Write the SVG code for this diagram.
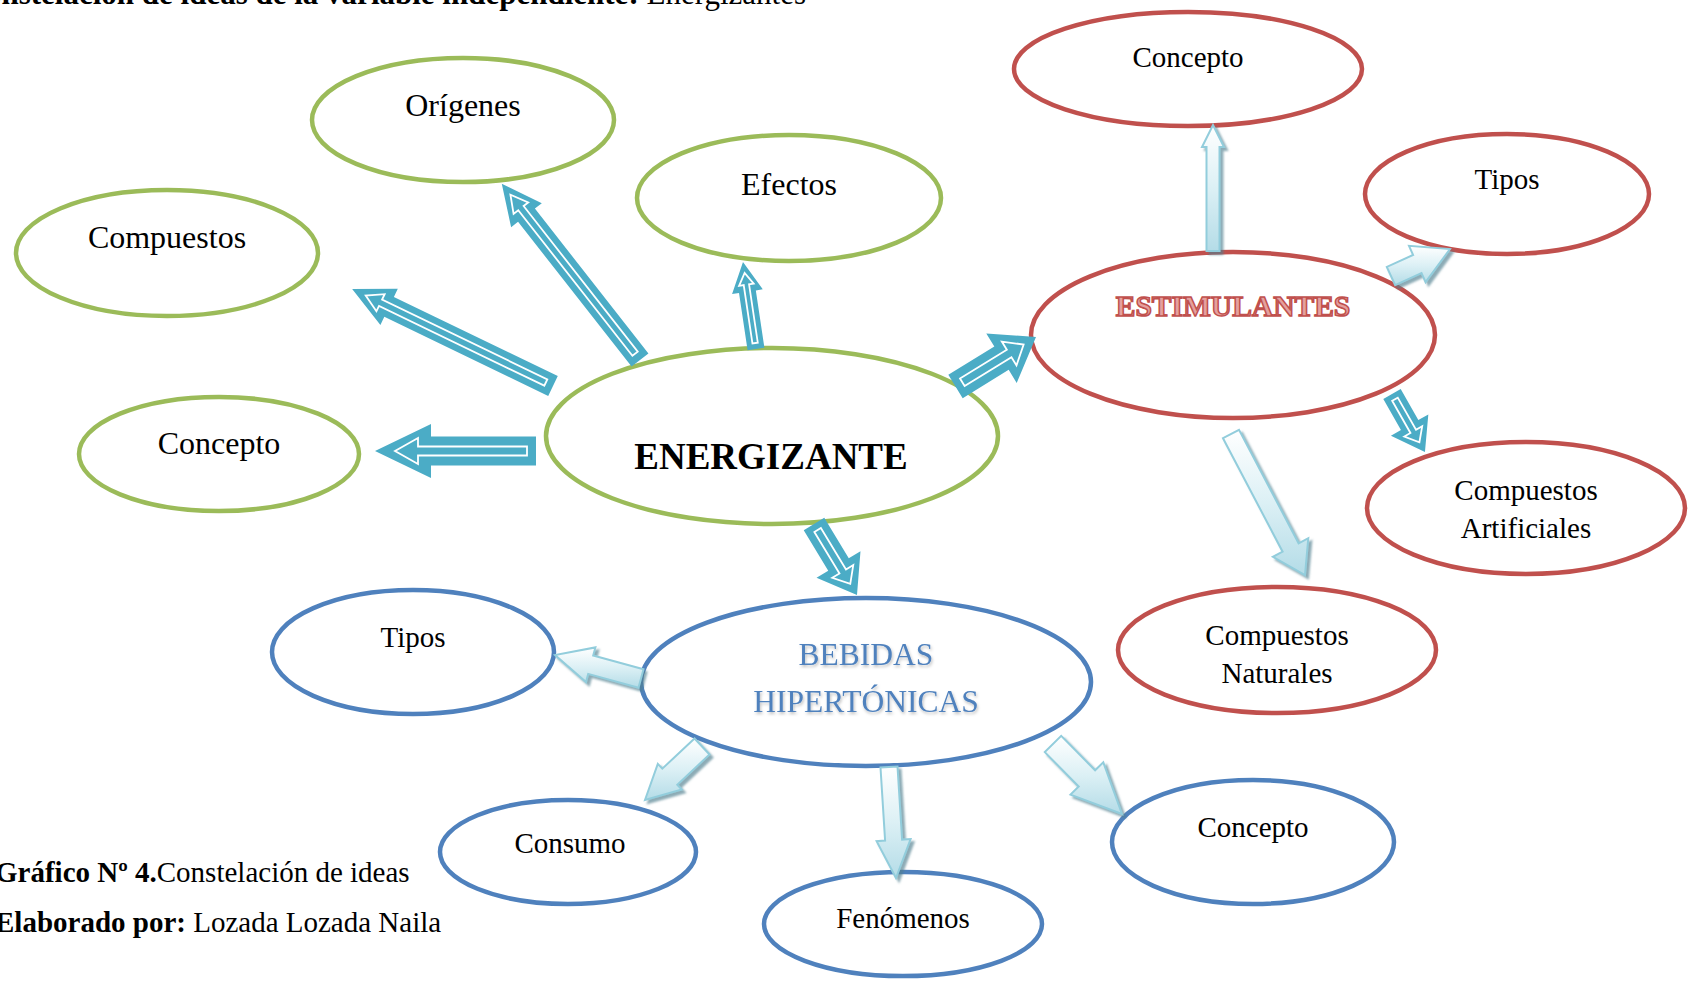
<svg xmlns="http://www.w3.org/2000/svg" width="1689" height="981" viewBox="0 0 1689 981">
<defs>
<linearGradient id="lg" x1="0" y1="0" x2="0" y2="1">
<stop offset="0" stop-color="#ffffff"/>
<stop offset="0.5" stop-color="#dcf0f5"/>
<stop offset="1" stop-color="#b4dce7"/>
</linearGradient>
<filter id="sh" x="-30%" y="-30%" width="160%" height="160%">
<feDropShadow dx="3" dy="3" stdDeviation="1" flood-color="#4f7f8e" flood-opacity="0.65"/>
</filter>
<filter id="tsh" x="-10%" y="-30%" width="120%" height="160%">
<feDropShadow dx="1" dy="2" stdDeviation="1.5" flood-color="#000" flood-opacity="0.25"/>
</filter>
<style>
.g{fill:#fff;stroke:#9bbb59;stroke-width:4.5}
.r{fill:#fff;stroke:#c0504d;stroke-width:4.5}
.b{fill:#fff;stroke:#4f81bd;stroke-width:4.5}
.t{font-family:"Liberation Serif","Times New Roman",serif;fill:#000;text-anchor:middle}
.t32{font-size:32px}
.t29{font-size:29px}
.teal{fill:#4bacc6}
.inner{fill:none;stroke:#fff;stroke-width:1.8;stroke-linejoin:miter}
.light{fill:url(#lg);stroke:#92cddc;stroke-width:2;stroke-linejoin:miter;filter:url(#sh)}
.cap{font-family:"Liberation Serif","Times New Roman",serif;fill:#000}
</style>
</defs>
<rect width="1689" height="981" fill="#fff"/>

<text class="cap" x="806" y="4" font-size="31" text-anchor="end"><tspan font-weight="bold">Constelación de ideas de la variable independiente: </tspan>Energizantes</text>

<g id="n-origenes"><ellipse class="g" cx="463" cy="120" rx="151" ry="62"/><text class="t t32" x="463" y="116">Orígenes</text></g>
<g id="n-compuestos-g"><ellipse class="g" cx="167" cy="253" rx="151" ry="63"/><text class="t t32" x="167" y="248">Compuestos</text></g>
<g id="n-concepto-g"><ellipse class="g" cx="219" cy="454" rx="140" ry="57"/><text class="t t32" x="219" y="454">Concepto</text></g>
<g id="n-efectos"><ellipse class="g" cx="789" cy="198" rx="152" ry="63"/><text class="t t32" x="789" y="195">Efectos</text></g>
<g id="n-energizante"><ellipse class="g" cx="772" cy="436" rx="226" ry="88"/><text class="t" x="771" y="469" font-size="37" font-weight="bold">ENERGIZANTE</text></g>

<g id="n-concepto-r"><ellipse class="r" cx="1188" cy="69" rx="174" ry="57"/><text class="t t29" x="1188" y="67">Concepto</text></g>
<g id="n-tipos-r"><ellipse class="r" cx="1507" cy="194" rx="142" ry="60"/><text class="t t29" x="1507" y="189">Tipos</text></g>
<g id="n-estimulantes"><ellipse class="r" cx="1233" cy="335" rx="202" ry="83"/><text class="t" x="1233" y="316" font-size="29.5" font-weight="bold" style="fill:#e5a09e;stroke:#c0504d;stroke-width:1.5">ESTIMULANTES</text></g>
<g id="n-comp-art"><ellipse class="r" cx="1526" cy="508" rx="159" ry="66"/><text class="t t29" x="1526" y="500">Compuestos</text><text class="t t29" x="1526" y="538">Artificiales</text></g>
<g id="n-comp-nat"><ellipse class="r" cx="1277" cy="650" rx="159" ry="63"/><text class="t t29" x="1277" y="645">Compuestos</text><text class="t t29" x="1277" y="683">Naturales</text></g>

<g id="n-tipos-b"><ellipse class="b" cx="413" cy="652" rx="141" ry="62"/><text class="t t29" x="413" y="647">Tipos</text></g>
<g id="n-bebidas"><ellipse class="b" cx="866" cy="682" rx="225" ry="84"/><text class="t" x="866" y="665" font-size="31.5" style="fill:#4f81bd" filter="url(#tsh)">BEBIDAS</text><text class="t" x="866" y="712" font-size="31.5" style="fill:#4f81bd" filter="url(#tsh)">HIPERTÓNICAS</text></g>
<g id="n-consumo"><ellipse class="b" cx="568" cy="852" rx="128" ry="52"/><text class="t t29" x="570" y="853">Consumo</text></g>
<g id="n-fenomenos"><ellipse class="b" cx="903" cy="924" rx="139" ry="52"/><text class="t t29" x="903" y="928">Fenómenos</text></g>
<g id="n-concepto-b"><ellipse class="b" cx="1253" cy="842" rx="141" ry="62"/><text class="t t29" x="1253" y="837">Concepto</text></g>

<g id="connectors">
<g transform="translate(536,451) rotate(180)"><polygon class="teal" points="0,-14.5 105,-14.5 105,-27 161,0 105,27 105,14.5 0,14.5"/><polygon class="inner" points="9,-4.5 118,-4.5 118,-13 141,0 118,13 118,4.5 9,4.5"/></g>
<g transform="translate(553,386) rotate(205.77)"><polygon class="teal" points="0,-11 182,-11 182,-20 223,0 182,20 182,11 0,11"/><polygon class="inner" points="8,-3.5 191.5,-3.5 191.5,-9.5 208,0 191.5,9.5 191.5,3.5 8,3.5"/></g>
<g transform="translate(640,360) rotate(231.9)"><polygon class="teal" points="0,-10.7 184,-10.7 184,-19.5 224,0 184,19.5 184,10.7 0,10.7"/><polygon class="inner" points="8,-3.4 193,-3.4 193,-9.3 210,0 193,9.3 193,3.4 8,3.4"/></g>
<g transform="translate(756,349) rotate(261.5)"><polygon class="teal" points="0,-8.5 58,-8.5 58,-15.5 88,0 58,15.5 58,8.5 0,8.5"/><polygon class="inner" points="6,-2.7 65,-2.7 65,-7.4 77,0 65,7.4 65,2.7 6,2.7"/></g>
<g transform="translate(955.5,386.5) rotate(-31.6)"><polygon class="teal" points="0,-13.7 54,-13.7 54,-29 94.5,0 54,29 54,13.7 0,13.7"/><polygon class="inner" points="8,-4.4 63,-4.4 63,-14 80,0 63,14 63,4.4 8,4.4"/></g>
<g transform="translate(814,524) rotate(58.8)"><polygon class="teal" points="0,-12 47.3,-12 47.3,-25.7 83,0 47.3,25.7 47.3,12 0,12"/><polygon class="inner" points="7,-3.8 55.5,-3.8 55.5,-12.3 70,0 55.5,12.3 55.5,3.8 7,3.8"/></g>
<g transform="translate(1392,394) rotate(60.4)"><polygon class="teal" points="0,-10 35.7,-10 35.7,-21.5 66.7,0 35.7,21.5 35.7,10 0,10"/><polygon class="inner" points="6,-3.2 43,-3.2 43,-10.3 55.5,0 43,10.3 43,3.2 6,3.2"/></g>

<polygon class="light" points="1219.5,251 1219.5,147 1224,147 1213,125 1202,147 1206.5,147 1206.5,251"/>
<polygon class="light" points="1395.2,285.1 1421.5,273.1 1425.6,282.2 1450,249 1409,245.8 1413.1,254.9 1386.8,266.9"/>
<polygon class="light" points="1223,438.2 1282.6,551.7 1272.9,556.8 1305,575 1308.3,538.2 1298.6,543.3 1239,429.8"/>
<polygon class="light" points="643.5,669.3 593.2,655.5 595.4,647.4 555,655 586,682.1 588.2,673.9 638.5,687.7"/>
<polygon class="light" points="694.5,738.5 662.3,768.7 657.8,763.9 645,800 681.8,789.5 677.3,784.7 709.5,754.5"/>
<polygon class="light" points="880.5,767.5 885.1,840.6 876.6,841.2 896,878 910.6,839 902.1,839.6 897.5,766.5"/>
<polygon class="light" points="1044.8,752.1 1078.7,786.5 1070.5,794.6 1122,814 1103.3,762.3 1095.1,770.3 1061.2,735.9"/>
</g>

<text class="cap" x="-5" y="882" font-size="29"><tspan font-weight="bold">Gráfico Nº 4.</tspan>Constelación de ideas</text>
<text class="cap" x="-5" y="932" font-size="29"><tspan font-weight="bold">Elaborado por: </tspan>Lozada Lozada Naila</text>
</svg>
